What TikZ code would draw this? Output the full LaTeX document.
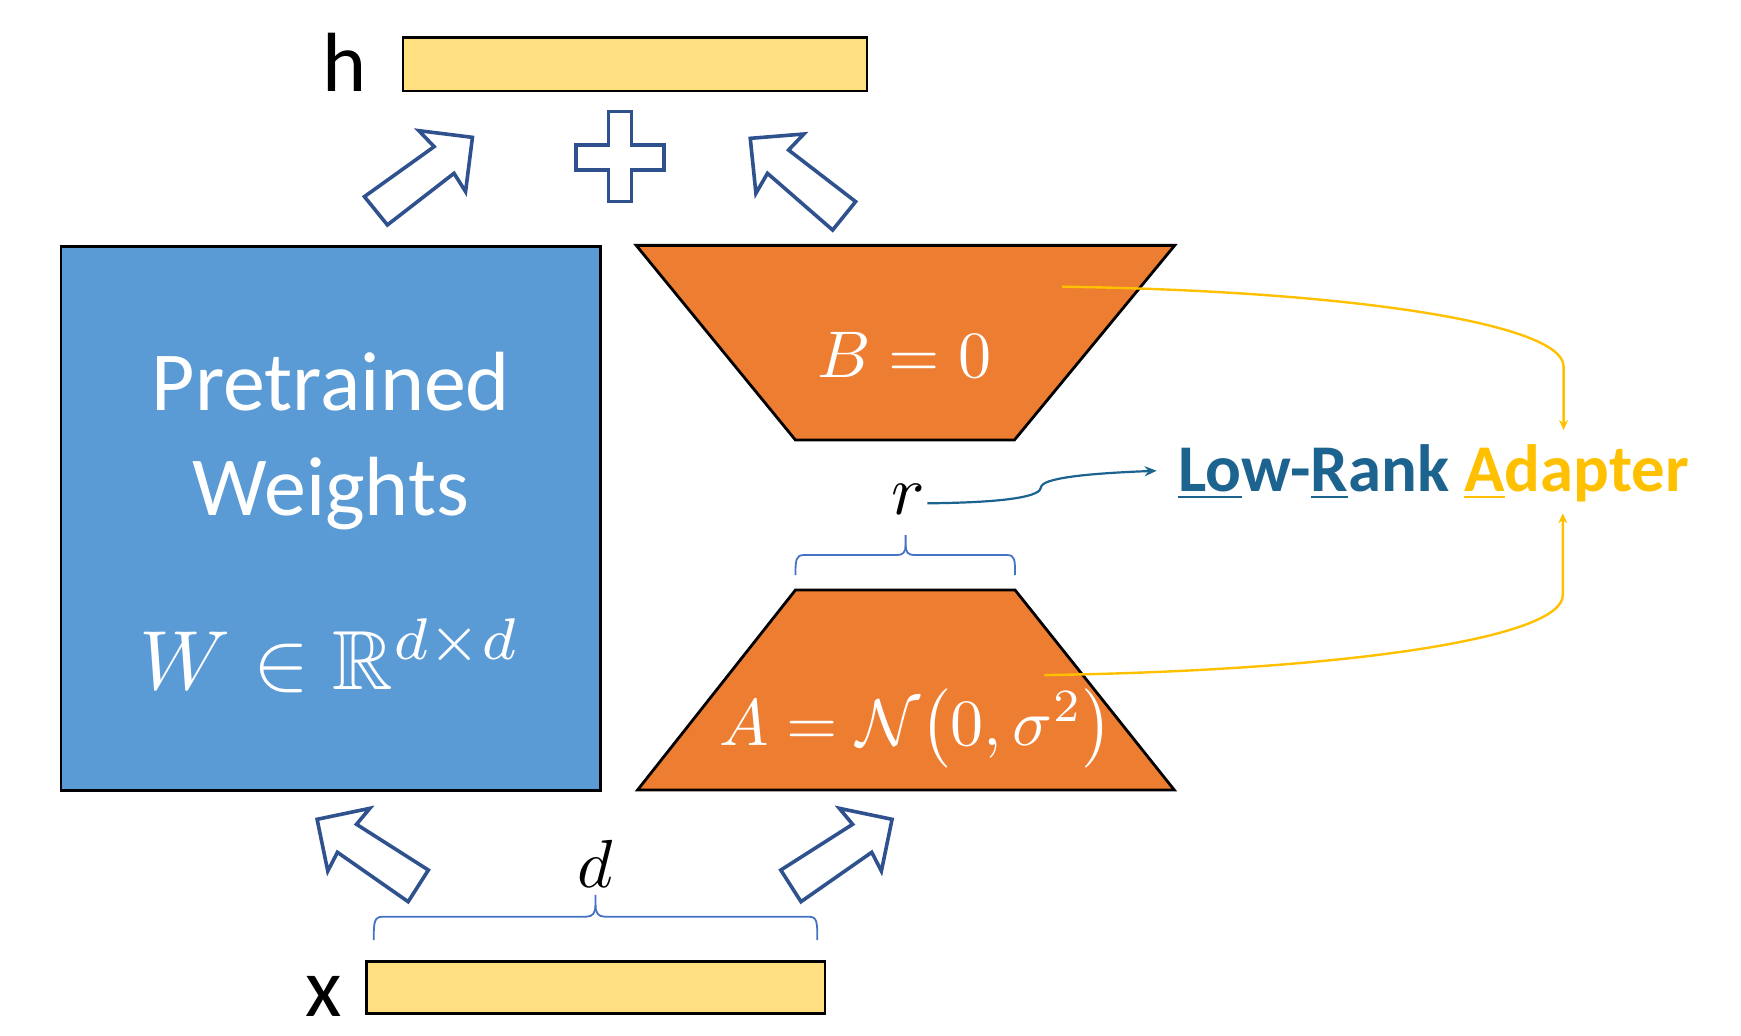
\documentclass[tikz,border=0pt]{standalone}
\usepackage{amssymb}
\usepackage[no-math]{fontspec}
\setmainfont{Carlito}
\usetikzlibrary{arrows.meta,fit}
\definecolor{wblue}{HTML}{5B9BD5}
\definecolor{torange}{HTML}{ED7D31}
\definecolor{vyellow}{HTML}{FFDF80}
\definecolor{aoutline}{HTML}{2F528F}
\definecolor{bracecol}{HTML}{4472C4}
\definecolor{lrteal}{HTML}{1D6390}
\definecolor{adyellow}{HTML}{FFC000}
\newcommand\myul[1]{\setbox0=\hbox{#1}\rlap{\rule[-3.2pt]{\wd0}{1.3pt}}\box0}
\begin{document}
\begin{tikzpicture}[x=0.55517pt,y=-0.55517pt,
  bar/.style={draw=black,line width=1.3pt,fill=vyellow,inner sep=0pt},
  wbox/.style={draw=black,line width=1.3pt,fill=wblue,inner sep=0pt},
  trap/.style={draw=black,line width=1.4pt,fill=torange,line join=miter},
  blockarrow/.style={draw=aoutline,line width=1.8pt,fill=white,line join=miter},
  bracepath/.style={draw=bracecol,line width=0.9pt},
  lbl/.style={font=\fontsize{42}{50}\selectfont,inner sep=0pt,anchor=base},
  wtext/.style={font=\fontsize{42}{50}\selectfont,text=white,inner sep=0pt,anchor=base},
  mtext/.style={text=white,inner sep=0pt,anchor=base},
  blk/.style={inner sep=0pt,anchor=base},
  yconn/.style={draw=adyellow,line width=1.2pt,-{Stealth[length=5pt,width=4.5pt]}},
  tconn/.style={draw=lrteal,line width=1.1pt,-{Stealth[length=6pt,width=5pt]}}
]
\useasboundingbox (0,0) rectangle (1568,933);

% output and input vectors
\node[bar,fit={(363,34) (781,82)}] (hbar) {};
\node[lbl] (hlab) at (310.7,82.6) {h};
\node[bar,fit={(330,866) (743,913)}] (xbar) {};
\node[lbl] (xlab) at (291.5,915.7) {x};

% pretrained weights
\node[wbox,fit={(55,222) (541,712)}] (W) {};
\node[wtext] (pt1) at (298,370) {Pretrained};
\node[wtext] (pt2) at (298,464) {Weights};
\node[mtext] (wf) at (297,621) {\scalebox{4.2}{$W \in \mathbb{R}^{d\times d}$}};

% trapezoids
\path[trap] (573,221) -- (1058,221) -- (913.6,396.3) -- (716.4,396.3) -- cycle;
\node[mtext] (Beq) at (814.5,340) {\scalebox{3.3}{$B = 0$}};
\path[trap] (716.4,531.4) -- (914.2,531.4) -- (1057.6,711.5) -- (574.2,711.5) -- cycle;
\node[mtext] (Aeq) at (825,671) {\scalebox{3.3}{$A = \mathcal{N}\!\left(0,\sigma^2\right)$}};

% block arrows
\path[blockarrow] (328.2,177.1) -- (391.0,132.1) -- (377.2,117.7) -- (425.5,123.7) -- (419.3,172.6) -- (408.9,156.1) -- (348.9,202.6) -- cycle;
\path[blockarrow] (675.7,124.6) -- (724.0,120.7) -- (710.2,135.1) -- (770.6,181.6) -- (749.9,207.2) -- (691.2,156.1) -- (680.8,174.1) -- cycle;
\path[blockarrow] (285.6,737.9) -- (333.1,728.0) -- (321.1,742.4) -- (385.8,783.6) -- (367.6,812.1) -- (303.9,767.6) -- (295.2,784.5) -- cycle;
\path[blockarrow] (803.4,737.9) -- (755.9,728.0) -- (767.9,742.4) -- (703.2,783.6) -- (721.4,812.1) -- (785.1,767.6) -- (793.8,784.5) -- cycle;
% plus
\path[blockarrow] (548,100.6) -- (568.7,100.6) -- (568.7,130.6) -- (598,130.6) -- (598,153.1) -- (568.7,153.1) -- (568.7,181.6) -- (548,181.6) -- (548,153.1) -- (518.7,153.1) -- (518.7,130.6) -- (548,130.6) -- cycle;

% braces
\path[bracepath] (336.6,846.6) .. controls (336.6,830) and (337,825.6) .. (345,825.6) -- (528,825.6) .. controls (534,825.6) and (536.3,822) .. (536.3,815) -- (536.3,806);
\path[bracepath] (536.3,815) .. controls (536.3,822) and (538.6,825.6) .. (544.6,825.6) -- (728,825.6) .. controls (736,825.6) and (736.1,830) .. (736.1,846.6);
\node[blk] (dlab) at (536,799) {\scalebox{3.4}{$d$}};

\path[bracepath] (716.4,517.9) .. controls (716.4,504) and (717,499.9) .. (724,499.9) -- (808,499.9) .. controls (813.5,499.9) and (815.6,497) .. (815.6,491) -- (815.6,481.9);
\path[bracepath] (815.6,491) .. controls (815.6,497) and (817.7,499.9) .. (823.2,499.9) -- (907,499.9) .. controls (914,499.9) and (914.2,504) .. (914.2,517.9);
\node[blk] (rlab) at (818,463) {\scalebox{3.5}{$r$}};

% Low-Rank Adapter
\node[font=\bfseries\fontsize{33.4}{40}\selectfont,inner sep=0pt,anchor=base west] (lra) at (1061,443)
  {\textcolor{lrteal}{\myul{Lo}w-\myul{R}ank} \textcolor{adyellow}{\myul{A}dapter}};

% connectors
\coordinate (rs) at (835.2,453.3);
\coordinate (rt) at (1041.7,424);
\draw[tconn] (rs) .. controls (915,452.5) and (937,446) .. (937.5,439) .. controls (938,431) and (975,426.5) .. (rt);

\coordinate (bsrc) at (956.5,258.2);
\coordinate (btgt) at (1408.2,387.3);
\draw[yconn] (bsrc) .. controls (1220,262) and (1408.2,292) .. (1408.2,330) -- (btgt);
\coordinate (asrc) at (940.6,608);
\coordinate (atgt) at (1407.5,462.3);
\draw[yconn] (asrc) .. controls (1210,604) and (1407.5,575) .. (1407.5,536) -- (atgt);
\end{tikzpicture}
\end{document}
